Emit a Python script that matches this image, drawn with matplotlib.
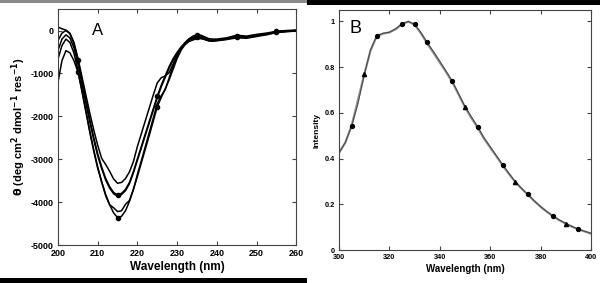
import numpy as np
import matplotlib
matplotlib.use("Agg")
import matplotlib.pyplot as plt
from matplotlib.patches import Rectangle

plt.rcParams['font.family'] = ['Liberation Sans', 'DejaVu Sans']
plt.rcParams['axes.unicode_minus'] = False

# ---- panel A: CD spectra ----
wl_cd = [200, 201, 202, 203, 204, 205, 206, 207, 208, 209,
         210, 211, 212, 213, 214, 215, 216, 217, 218, 219,
         220, 221, 222, 223, 224, 225, 226, 227, 228, 229,
         230, 231, 232, 233, 234, 235, 236, 237, 238, 239,
         240, 242.5, 245, 247.5, 250, 252.5, 255, 257.5, 260]

cd1 = [80, 40, 10, -62, -276, -634, -1064, -1494, -1923, -2317,
       -2675, -2980, -3120, -3280, -3460, -3560, -3540, -3449, -3294, -3052,
       -2700, -2400, -2100, -1800, -1500, -1220, -1100, -1060, -980, -780,
       -560, -400, -280, -190, -130, -100, -110, -150, -190, -200,
       -200, -170, -110, -130, -90, -60, -20, 0, 10]
cd2 = [-230, -60, 0, -77, -306, -689, -1149, -1609, -2068, -2490,
       -2873, -3179, -3447, -3639, -3773, -3830, -3794, -3702, -3538, -3282,
       -2990, -2698, -2406, -2114, -1822, -1530, -1275, -1056, -837, -654,
       -508, -381, -289, -216, -180, -110, -130, -180, -220, -230,
       -220, -190, -140, -160, -120, -80, -30, -15, 0]
cd3 = [-460, -200, -100, -175, -401, -777, -1228, -1679, -2130, -2544,
       -2920, -3221, -3484, -3672, -3804, -3860, -3824, -3733, -3569, -3314,
       -3023, -2732, -2440, -2149, -1858, -1567, -1312, -1094, -875, -693,
       -548, -420, -329, -256, -220, -190, -190, -210, -240, -250,
       -240, -210, -170, -180, -140, -100, -50, -30, -10]
cd4 = [-660, -350, -200, -280, -522, -924, -1406, -1888, -2371, -2813,
       -3215, -3537, -3850, -4060, -4130, -4220, -4200, -4050, -3960, -3700,
       -3350, -3030, -2700, -2370, -2040, -1700, -1520, -1380, -1100, -820,
       -600, -430, -300, -210, -160, -130, -160, -200, -230, -230,
       -220, -200, -150, -160, -120, -90, -40, -20, 0]
cd5 = [-1200, -700, -470, -520, -700, -960, -1380, -1850, -2330, -2780,
       -3180, -3520, -3820, -4060, -4250, -4360, -4330, -4200, -3980, -3700,
       -3400, -3080, -2760, -2440, -2110, -1780, -1560, -1360, -1150, -900,
       -650, -460, -320, -230, -190, -150, -170, -210, -240, -240,
       -230, -200, -130, -150, -110, -80, -20, -10, 0]
cd_marker_wl = [205, 215, 225, 235, 245, 255]

# ---- panel B: emission spectra ----
wl_em = [300, 302.5, 305, 307.5, 310, 312.5, 315, 317.5, 320, 322.5,
         325, 327.5, 330, 332.5, 335, 337.5, 340, 342.5, 345, 347.5,
         350, 352.5, 355, 357.5, 360, 362.5, 365, 367.5, 370, 372.5,
         375, 377.5, 380, 382.5, 385, 387.5, 390, 392.5, 395, 397.5, 400]
em1 = [0.425, 0.47, 0.541, 0.64, 0.765, 0.875, 0.938, 0.948, 0.953, 0.968,
       0.99, 1.0, 0.988, 0.952, 0.908, 0.868, 0.826, 0.782, 0.738, 0.683,
       0.628, 0.583, 0.540, 0.492, 0.452, 0.412, 0.372, 0.334, 0.298, 0.269,
       0.243, 0.215, 0.190, 0.168, 0.148, 0.131, 0.116, 0.103, 0.091, 0.082, 0.073]
em2 = [0.425, 0.47, 0.545, 0.655, 0.768, 0.872, 0.936, 0.947, 0.952, 0.966,
       0.988, 0.999, 0.986, 0.948, 0.903, 0.862, 0.820, 0.779, 0.733, 0.679,
       0.624, 0.578, 0.535, 0.488, 0.448, 0.409, 0.369, 0.332, 0.297, 0.268,
       0.241, 0.214, 0.189, 0.167, 0.147, 0.130, 0.115, 0.102, 0.090, 0.081, 0.072]
em1_marker_wl = [305, 315, 325, 330, 335, 345, 355, 365, 375, 385, 395]
em2_marker_wl = [310, 350, 370, 390]

fig = plt.figure(figsize=(6, 2.83), dpi=100)

# border strips of the composite picture
fig.add_artist(Rectangle((0, 0.99), 0.512, 0.01, transform=fig.transFigure,
                         color='#8a8a8a', lw=0))
fig.add_artist(Rectangle((0.512, 0.984), 0.488, 0.016, transform=fig.transFigure,
                         color='black', lw=0))
fig.add_artist(Rectangle((0, 0), 0.512, 0.016, transform=fig.transFigure,
                         color='black', lw=0))

frame = '#444444'

# Panel A
axA = fig.add_axes([0.0967, 0.134, 0.397, 0.834])
wl_cd_arr = np.array(wl_cd)
for cd in [cd1, cd2, cd3, cd4, cd5]:
    axA.plot(wl_cd, cd, color='black', lw=1.1)
for cd in [cd2, cd5]:
    m = np.isin(wl_cd_arr, cd_marker_wl)
    axA.plot(wl_cd_arr[m], np.array(cd)[m], 'o', color='black', ms=3)
axA.set_xlim(200, 260)
axA.set_ylim(-5000, 500)
axA.set_xticks([200, 210, 220, 230, 240, 250, 260])
axA.set_yticks([0, -1000, -2000, -3000, -4000, -5000])
axA.tick_params(direction='in', top=True, right=True, length=3, width=0.8,
                color=frame, labelsize=6.5, pad=3)
for lab in axA.get_xticklabels() + axA.get_yticklabels():
    lab.set_fontweight('bold')
for s in axA.spines.values():
    s.set_color(frame)
    s.set_linewidth(0.8)
axA.set_xlabel('Wavelength (nm)', fontsize=8.5, fontweight='bold', labelpad=2)
axA.set_ylabel(r'$\mathbf{\theta}$ (deg cm$^{\mathbf{2}}$ dmol$^{\mathbf{-1}}$ res$^{\mathbf{-1}}$)',
               fontsize=8, fontweight='bold', labelpad=2)
axA.text(210, 0, 'A', fontsize=12, ha='center', va='center')

# Panel B
axB = fig.add_axes([0.565, 0.1166, 0.42, 0.848])
wl_em_arr = np.array(wl_em)
axB.plot(wl_em, em2, color='#9a9a9a', lw=1.6)
axB.plot(wl_em, em1, color='#4a4a4a', lw=0.8)
m1 = np.isin(wl_em_arr, em1_marker_wl)
axB.plot(wl_em_arr[m1], np.array(em1)[m1], 'o', color='black', ms=2.8)
m2 = np.isin(wl_em_arr, em2_marker_wl)
axB.plot(wl_em_arr[m2], np.array(em2)[m2], '^', color='black', ms=3)
axB.set_xlim(300, 400)
axB.set_ylim(0, 1.05)
axB.set_xticks([300, 320, 340, 360, 380, 400])
axB.set_yticks([0, 0.2, 0.4, 0.6, 0.8, 1.0])
axB.set_yticklabels(['0', '0.2', '0.4', '0.6', '0.8', '1'])
axB.tick_params(direction='in', top=True, right=True, length=3, width=0.8,
                color=frame, labelsize=5.3, pad=3)
for lab in axB.get_xticklabels() + axB.get_yticklabels():
    lab.set_fontweight('bold')
for s in axB.spines.values():
    s.set_color(frame)
    s.set_linewidth(0.8)
axB.set_xlabel('Wavelength (nm)', fontsize=7, fontweight='bold', labelpad=2)
axB.set_ylabel('Intensity', fontsize=6, fontweight='bold', labelpad=3)
axB.text(306.4, 0.97, 'B', fontsize=13, ha='center', va='center')

fig.savefig('out.png', dpi=100)
